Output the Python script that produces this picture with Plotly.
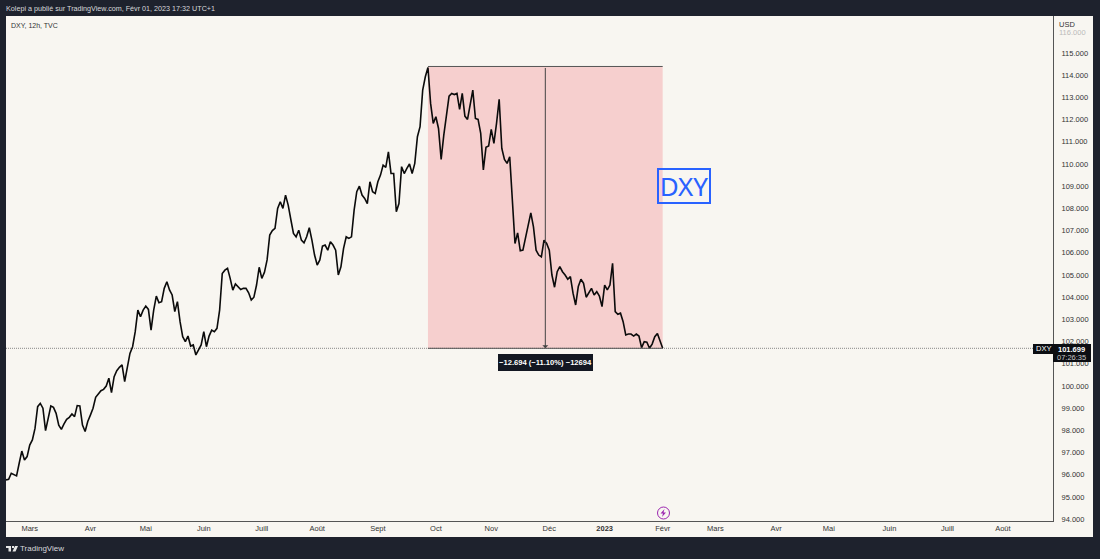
import pandas as pd
import plotly.graph_objects as go

# DXY 12h, one value per trading day
close_values = [
    95.77, 95.80, 96.07, 95.99, 95.95, 96.52, 97.07, 96.67, 96.82, 97.34,
    97.57, 98.09, 99.07, 99.22, 99.00, 97.99, 98.50, 99.10, 99.04, 98.77,
    98.24, 98.05, 98.29, 98.50, 98.59, 98.74, 98.62, 99.12, 99.10, 98.24,
    97.95, 98.40, 98.69, 99.00, 99.49, 99.64, 99.79, 99.85, 100.00, 100.35,
    99.70, 100.42, 100.69, 100.84, 100.95, 100.20, 100.80, 101.47, 101.77, 102.45,
    103.42, 103.12, 103.42, 103.60, 103.45, 102.52, 103.42, 104.05, 103.75, 103.80,
    104.40, 104.70, 104.33, 104.10, 103.35, 103.80, 102.90, 102.22, 102.00, 102.25,
    101.80, 101.85, 101.40, 101.62, 101.85, 102.45, 101.77, 102.25, 102.52, 102.45,
    102.60, 103.42, 105.07, 105.22, 105.30,
    104.85, 104.32, 104.60, 104.47, 104.35, 104.40, 104.40, 104.20, 103.87, 104.00,
    104.55, 105.35, 104.85, 105.12, 105.68, 106.80, 107.00, 107.10, 108.00, 108.30,
    108.00, 108.60, 108.15, 107.50, 106.87, 106.72, 107.02, 106.57, 106.45, 106.72,
    107.13, 106.57, 105.90, 105.45, 105.68, 106.30, 106.35, 106.12, 106.50, 106.35,
    106.12, 105.00, 105.37, 106.20, 106.72, 106.65, 106.72, 107.92, 108.75, 109.00,
    108.60, 108.45, 108.22, 109.20, 108.75, 108.67, 109.20, 109.50, 109.95, 109.85,
    110.55, 109.57, 109.57, 107.85, 108.22, 109.88, 109.57, 109.80, 110.00, 109.57,
    110.03, 111.23, 111.68, 113.33, 113.93, 114.35,
    112.73, 111.83, 112.13, 111.60, 110.21, 111.30, 112.20, 113.06, 113.18, 113.13,
    113.18, 112.46, 113.18, 112.16, 112.01, 112.76, 113.33, 112.05, 112.01, 111.38,
    109.73, 110.75, 110.81, 111.56, 110.93, 111.83, 112.91, 110.70, 110.21, 110.03,
    110.33, 108.37, 106.42, 106.90, 106.09, 106.12, 106.72, 107.32, 107.80, 107.17,
    106.12, 105.90, 105.82, 106.57, 106.42, 106.12,
    105.00, 104.45, 105.15, 105.38, 105.15, 105.00, 104.81, 104.93, 104.18, 103.65,
    104.48, 104.81, 104.63, 104.00, 104.21, 104.40, 104.10, 104.25, 104.05,
    103.58, 104.55, 104.33, 104.55, 105.53, 103.35, 103.23, 103.28, 102.90, 102.30,
    102.34, 102.34, 102.25, 102.34, 102.25, 101.73, 102.00, 101.97, 101.70, 101.89,
    102.22, 102.37, 102.07, 101.699,
]
holidays = ["2022-12-26"]  # no bars that day, the axis skips it
close_dates = pd.bdate_range(start="2022-02-16", end="2023-02-01")
close_dates = close_dates[~close_dates.isin(pd.to_datetime(holidays))]

month_ticks = ["2022-03-01", "2022-04-01", "2022-05-02", "2022-06-01", "2022-07-01", "2022-08-01",
               "2022-09-01", "2022-10-03", "2022-11-01", "2022-12-01", "2023-01-02", "2023-02-01",
               "2023-03-01", "2023-04-03", "2023-05-01", "2023-06-01", "2023-07-03", "2023-08-01"]
month_labels = ["Mars", "Avr", "Mai", "Juin", "Juill", "Août", "Sept", "Oct", "Nov", "Déc",
                "<b>2023</b>", "Févr", "Mars", "Avr", "Mai", "Juin", "Juill", "Août"]
price_ticks = list(range(94, 116))
price_labels = ["%d.000" % p for p in price_ticks]

# measuring tool on the chart
range_start = "2022-09-28"
range_end = "2023-02-01"
range_mid = "2022-11-29 12:00"
range_high = 114.393
range_low = 101.699

FRAME = "#1e222d"
PAPER = "#f8f6f1"
FONT = "Liberation Sans, sans-serif"
LEFT, RIGHT, TOP, BOTTOM = 6, 1053, 16, 521


# page pixels to plot fractions, for the TradingView furniture around the chart
def px(x):
    return (x - LEFT) / (RIGHT - LEFT)


def py(y):
    return (BOTTOM - y) / (BOTTOM - TOP)


def page_rect(x0, y0, x1, y1, fill, layer="below"):
    return dict(type="rect", xref="paper", yref="paper", x0=px(x0), x1=px(x1), y0=py(y0), y1=py(y1),
                fillcolor=fill, line_width=0, layer=layer)


def page_path(points, fill):
    path = "M " + " L ".join("%f,%f" % (px(a), py(b)) for a, b in points) + " Z"
    return dict(type="path", xref="paper", yref="paper", path=path, fillcolor=fill, line_width=0)


def page_text(x, y, text, size=8, color="#131722", anchor="left"):
    return dict(xref="paper", yref="paper", x=px(x), y=py(y), text=text, showarrow=False, borderpad=0,
                xanchor=anchor, yanchor="middle", font=dict(size=size, color=color, family=FONT))


fig = go.Figure()
fig.add_trace(go.Scatter(x=close_dates, y=close_values, mode="lines",
                         line=dict(color="#0b0b0b", width=1.6), hoverinfo="skip"))

shapes = [
    page_rect(6, 16, 1093, 537, PAPER),
    dict(type="rect", x0=range_start, x1=range_end, y0=range_low, y1=range_high,
         fillcolor="rgba(242,54,69,0.2)", line_width=0, layer="below"),
    dict(type="line", x0=range_start, x1=range_end, y0=range_high, y1=range_high, line=dict(color="#555", width=1)),
    dict(type="line", x0=range_start, x1=range_end, y0=range_low, y1=range_low, line=dict(color="#555", width=1)),
    dict(type="line", xref="paper", x0=0, x1=1, y0=range_low, y1=range_low,
         line=dict(color="#888", width=1, dash="1px,1px"), layer="below"),
    page_rect(1033, 344, 1053, 354, "#0c0e13", "above"),
    page_rect(1053, 344, 1091, 362, "#0c0e13", "above"),
    page_rect(498, 354, 593, 371, "#131722", "above"),
    # TradingView logo
    page_rect(6, 546, 11, 548, "#e6e6e6", "above"),
    page_rect(8.5, 548, 11, 551.5, "#e6e6e6", "above"),
    page_path([(12, 546), (14, 546), (14, 548), (12, 548)], "#e6e6e6"),
    page_path([(15, 546), (18, 546), (15.5, 551.5), (12.5, 551.5)], "#e6e6e6"),
    # news bolt
    dict(type="circle", xref="paper", yref="paper", x0=px(657.5), x1=px(669.5), y0=py(519), y1=py(507),
         line=dict(color="#9c27b0", width=1), fillcolor=PAPER),
    page_path([(664.5, 509), (660.5, 513.5), (663, 513.5), (662, 517), (666, 512.5), (663.5, 512.5)], "#9c27b0"),
]

annotations = [
    page_text(5, 9, "Kolepi a publié sur TradingView.com, Févr 01, 2023 17:32 UTC+1", size=7.2, color="#d8d9dc"),
    page_text(10, 25, "DXY, 12h, TVC", size=7, color="#333"),
    page_text(1058, 24, "USD", size=7.5, color="#333"),
    page_text(1058, 32, "116.000", size=7.5, color="#bbb"),
    page_text(1043, 349, "DXY", size=7.5, color="#fff", anchor="center"),
    page_text(1072, 349.5, "<b>101.699</b>", size=7.5, color="#fff", anchor="center"),
    page_text(1072, 357.5, "07:26:35", size=7.5, color="#c8c8c8", anchor="center"),
    page_text(545.5, 362.5, "<b>−12.694 (−11.10%) −12694</b>", size=7.6, color="#fff", anchor="center"),
    page_text(19, 548, "TradingView", size=8, color="#d8d9dc"),
    dict(xref="paper", yref="paper", x=px(684), y=py(186), text="DXY", showarrow=False,
         xanchor="center", yanchor="middle", width=50, height=32, align="center", valign="middle",
         bordercolor="#2962ff", borderwidth=2, borderpad=0,
         font=dict(size=26, color="#2962ff", family="Noto Sans")),
    # arrow of the measuring tool
    dict(x=range_mid, y=range_low, ax=range_mid, ay=range_high, axref="x", ayref="y", text="",
         showarrow=True, arrowhead=1, arrowsize=1, arrowwidth=1, arrowcolor="#444"),
]

fig.update_layout(
    width=1100, height=559, autosize=False,
    margin=dict(l=LEFT, r=1100 - RIGHT, t=TOP, b=559 - BOTTOM),
    paper_bgcolor=FRAME, plot_bgcolor=PAPER,
    showlegend=False, shapes=shapes, annotations=annotations,
    font=dict(family=FONT, size=7.5, color="#333"),
    xaxis=dict(type="date", range=["2022-02-16", "2023-08-28 00:00"],
               rangebreaks=[dict(bounds=["sat", "mon"]), dict(values=holidays)],
               tickmode="array", tickvals=month_ticks, ticktext=month_labels,
               showgrid=False, zeroline=False, ticks="", showline=True, linecolor="#555", linewidth=1,
               ticklabelstandoff=0),
    yaxis=dict(side="right", range=[93.92, 116.667],
               tickmode="array", tickvals=price_ticks, ticktext=price_labels,
               showgrid=False, zeroline=False, ticks="", showline=True, linecolor="#555", linewidth=1,
               ticklabelstandoff=6),
)

fig.write_html("out.html", config=dict(displayModeBar=False),
               post_script="document.body.style.margin='0';document.body.style.overflow='hidden';")
